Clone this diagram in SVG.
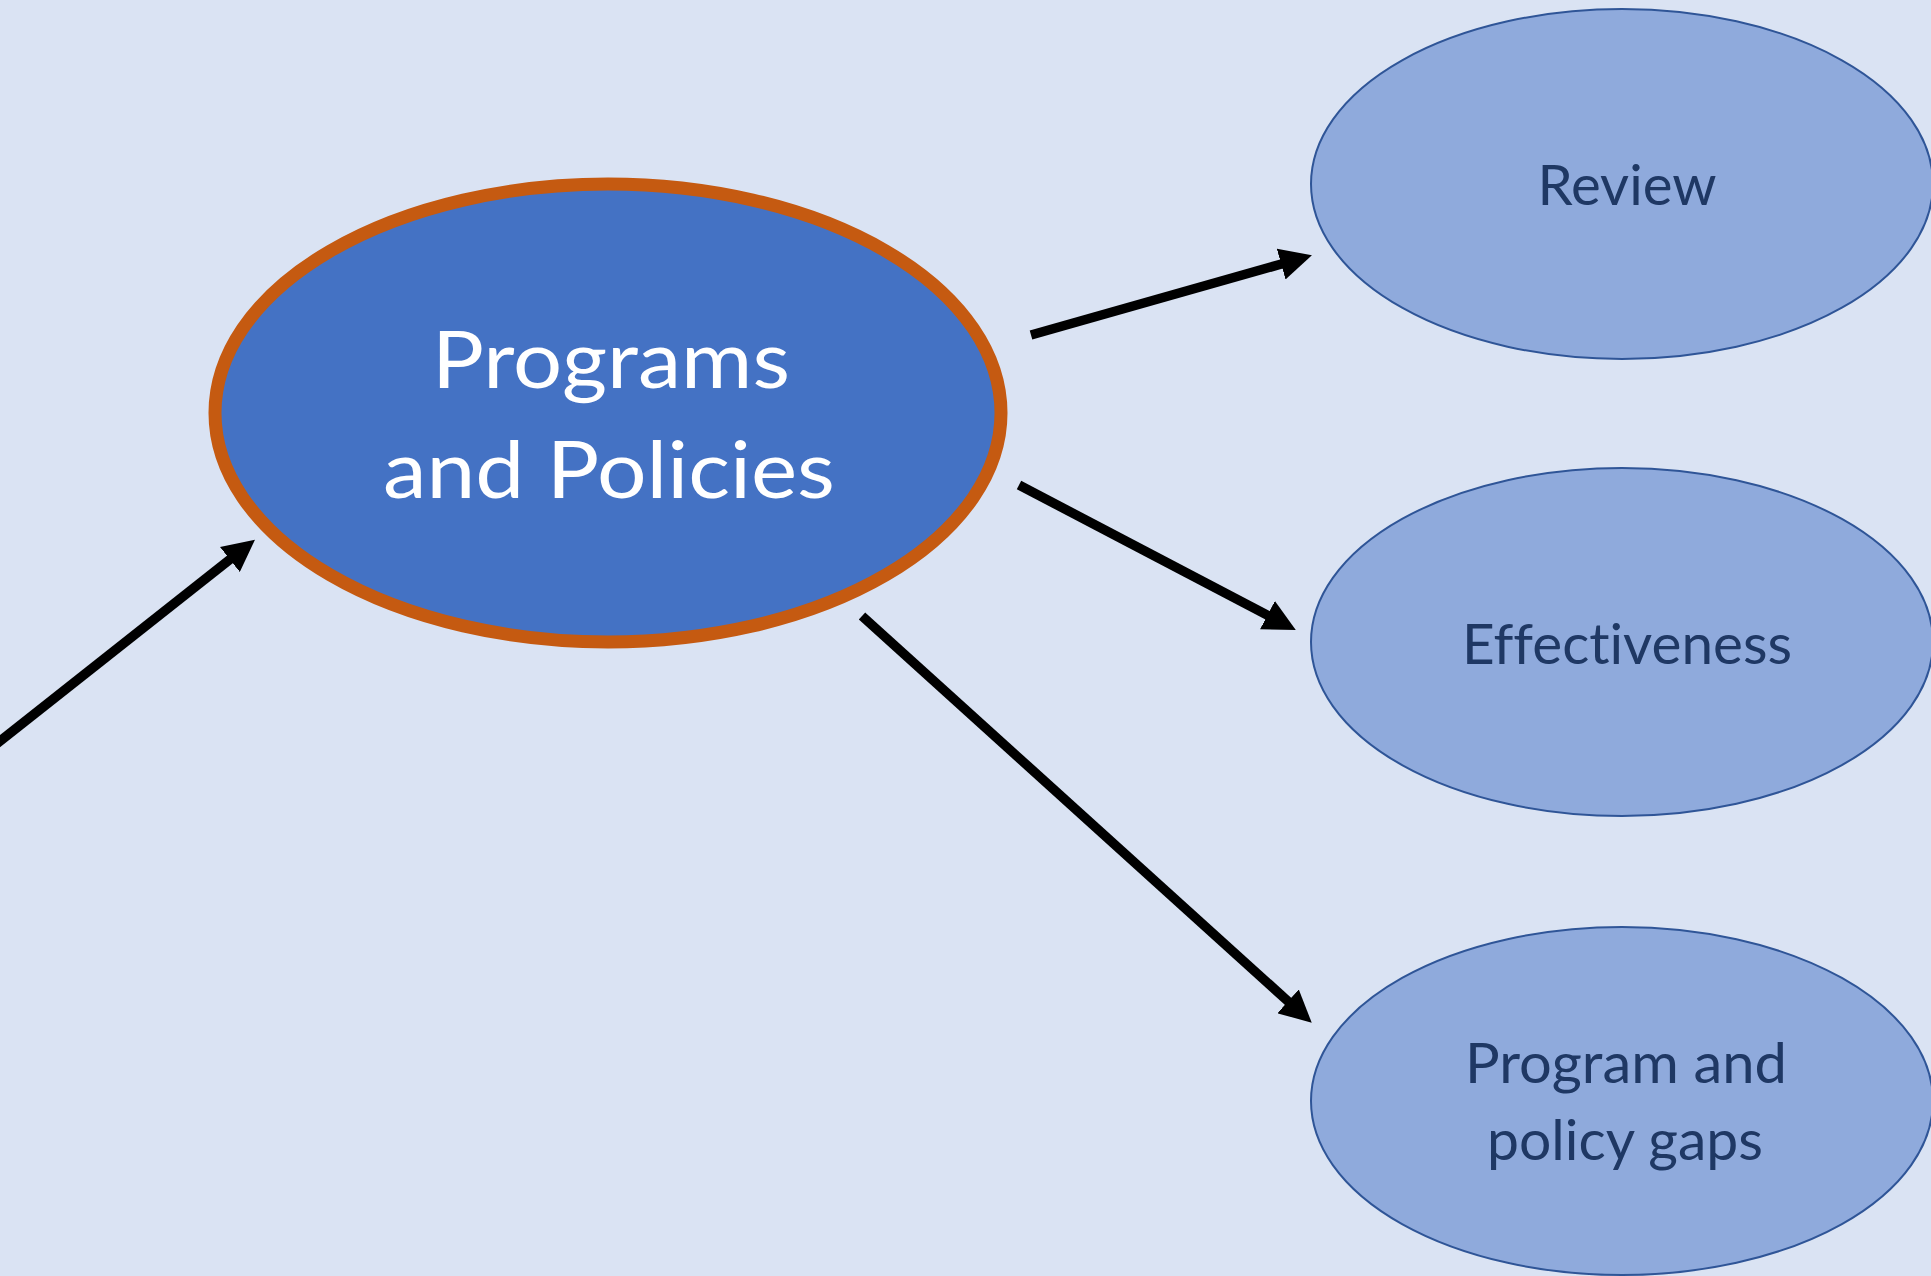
<svg xmlns="http://www.w3.org/2000/svg" width="1931" height="1276" viewBox="0 0 1931 1276">
<style>
.bg{fill:#DAE3F3}
.main{fill:#4472C4;stroke:#C55A11;stroke-width:13}
.sub{fill:#8FAADC;stroke:#2F5597;stroke-width:2}
.mt{font-family:Lato,"Open Sans",sans-serif;font-size:80px;fill:#FFFFFF;text-anchor:middle;font-variant-ligatures:none}
.st{font-family:Lato,"Open Sans",sans-serif;font-size:56px;fill:#1F3864;text-anchor:middle;font-variant-ligatures:none}
.arr{stroke:#000;stroke-width:9.5;fill:none;marker-end:url(#ah)}
</style>
<defs>
<marker id="ah" markerUnits="userSpaceOnUse" viewBox="0 0 32 32" markerWidth="32" markerHeight="32" refX="4" refY="16" orient="auto">
<path d="M0,0 L32,16 L0,32 z" fill="#000"/>
</marker>
</defs>
<rect class="bg" x="0" y="0" width="1931" height="1276"/>
<g id="connectors">
<line class="arr" x1="-10" y1="749" x2="233" y2="557"/>
<line class="arr" x1="1031" y1="335" x2="1285" y2="263"/>
<line class="arr" x1="1019" y1="485" x2="1271" y2="617"/>
<line class="arr" x1="862" y1="616" x2="1291" y2="1004"/>
</g>
<g id="node-programs-policies">
<ellipse class="main" cx="608" cy="413" rx="393" ry="229"/>
<text class="mt" x="611" y="388" textLength="358" lengthAdjust="spacingAndGlyphs">Programs</text>
<text class="mt" x="609" y="498" textLength="452" lengthAdjust="spacingAndGlyphs">and Policies</text>
</g>
<g id="node-review">
<ellipse class="sub" cx="1622" cy="184" rx="311" ry="175"/>
<text class="st" x="1627" y="205" textLength="179" lengthAdjust="spacingAndGlyphs">Review</text>
</g>
<g id="node-effectiveness">
<ellipse class="sub" cx="1622" cy="642" rx="311" ry="174"/>
<text class="st" x="1627" y="664" textLength="330" lengthAdjust="spacingAndGlyphs">Effectiveness</text>
</g>
<g id="node-gaps">
<ellipse class="sub" cx="1622" cy="1101" rx="311" ry="174"/>
<text class="st" x="1626" y="1083" textLength="322" lengthAdjust="spacingAndGlyphs">Program and</text>
<text class="st" x="1625" y="1160" textLength="276" lengthAdjust="spacingAndGlyphs">policy gaps</text>
</g>
</svg>
